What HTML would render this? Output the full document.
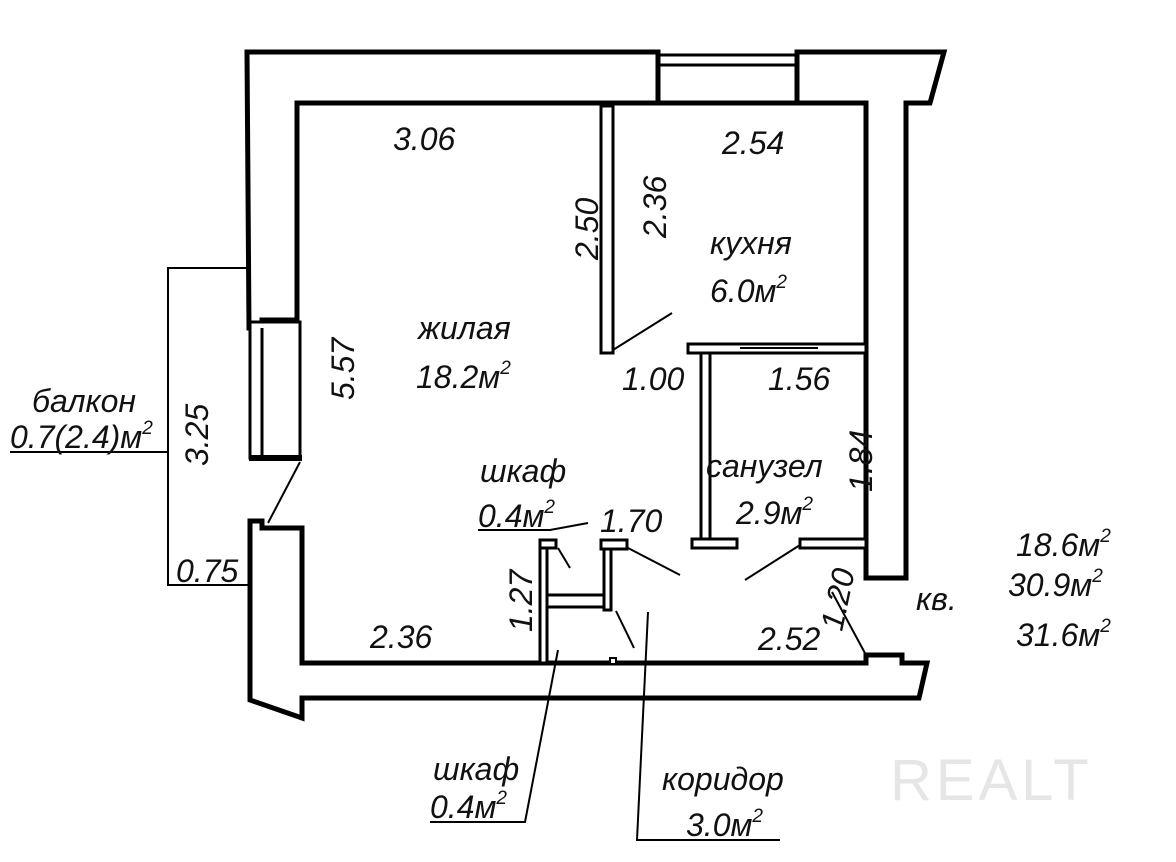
<!DOCTYPE html>
<html><head><meta charset="utf-8"><style>
html,body{margin:0;padding:0;background:#fff;}
svg{display:block}
text{font-family:"Liberation Sans","DejaVu Sans",sans-serif;font-style:italic;fill:#111;font-size:32px;}
</style></head><body>
<svg width="1176" height="862" viewBox="0 0 1176 862" xmlns="http://www.w3.org/2000/svg">
<rect width="1176" height="862" fill="#fff"/>
<g fill="#fff" stroke="#000" stroke-width="5" stroke-linejoin="miter">
<polygon points="247,52 658,52 658,103 297,103 297,320 262,320 262,328 249,328"/>
<polyline points="658,55 799,55" stroke-width="3" fill="none"/>
<polyline points="660,65 797,65" stroke-width="3" fill="none"/>
<line x1="658" y1="65" x2="658" y2="103"/>
<line x1="799" y1="65" x2="799" y2="103"/>
<line x1="658" y1="103" x2="799" y2="103"/>
<polygon points="797,52 944,52 930,103 906,103 906,578 866,578 866,103 797,103"/>
<rect x="250" y="322" width="50" height="136" stroke-width="3"/>
<line x1="262" y1="328" x2="262" y2="458" stroke-width="3"/>
<line x1="249" y1="458" x2="302" y2="458" stroke-width="6"/>
<polygon points="250,521 262,521 262,528 302,528 302,663 866,663 866,655 902,655 902,663 927,663 919,698 302,698 302,718 250,700"/>
<rect x="601" y="106" width="12" height="247" stroke-width="3"/>
<rect x="688" y="344" width="178" height="9" stroke-width="3"/>
<line x1="740" y1="348" x2="818" y2="348" stroke-width="2"/>
<rect x="701" y="353" width="9" height="188" stroke-width="3"/>
<rect x="692" y="539" width="45" height="9" stroke-width="3"/>
<rect x="800" y="539" width="66" height="9" stroke-width="3"/>
<rect x="540" y="545" width="7" height="118" stroke-width="3"/>
<rect x="540" y="540" width="16" height="8" stroke-width="3"/>
<rect x="604" y="542" width="7" height="68" stroke-width="3"/>
<rect x="601" y="540" width="26" height="9" stroke-width="3"/>
<rect x="547" y="595" width="57" height="12" stroke-width="3"/>
<rect x="610" y="658" width="6" height="6" stroke-width="2"/>
</g>
<g stroke="#000" stroke-width="2" fill="none">
<line x1="300" y1="462" x2="268" y2="523"/>
<line x1="613" y1="350" x2="672" y2="313"/>
<line x1="628" y1="548" x2="680" y2="575"/>
<line x1="800" y1="545" x2="745" y2="580"/>
<line x1="558" y1="548" x2="570" y2="568"/>
<line x1="616" y1="611" x2="634" y2="648"/>
<polyline points="248,268 168,268 168,585 250,585"/>
<line x1="10" y1="452" x2="168" y2="452"/>
<polyline points="478,530 550,530 588,523"/>
<polyline points="430,822 525,822 558,650"/>
<polyline points="780,840 637,840 648,612"/>
<line x1="832" y1="592" x2="866" y2="655"/>
</g>
<text x="393" y="150">3.06</text>
<text x="722" y="154">2.54</text>
<text x="710" y="254">кухня</text>
<text x="710" y="302">6.0м<tspan font-size="19" dy="-14">2</tspan></text>
<text x="418" y="339">жилая</text>
<text x="416" y="388">18.2м<tspan font-size="19" dy="-14">2</tspan></text>
<text x="622" y="390">1.00</text>
<text x="768" y="390">1.56</text>
<text x="706" y="477">санузел</text>
<text x="736" y="524">2.9м<tspan font-size="19" dy="-14">2</tspan></text>
<text x="480" y="482">шкаф</text>
<text x="478" y="527">0.4м<tspan font-size="19" dy="-14">2</tspan></text>
<text x="600" y="532">1.70</text>
<text x="370" y="648">2.36</text>
<text x="758" y="650">2.52</text>
<text x="32" y="412">балкон</text>
<text x="10" y="448">0.7(2.4)м<tspan font-size="19" dy="-14">2</tspan></text>
<text x="176" y="582">0.75</text>
<text x="433" y="780">шкаф</text>
<text x="430" y="818">0.4м<tspan font-size="19" dy="-14">2</tspan></text>
<text x="662" y="790">коридор</text>
<text x="686" y="836">3.0м<tspan font-size="19" dy="-14">2</tspan></text>
<text x="1016" y="556">18.6м<tspan font-size="19" dy="-14">2</tspan></text>
<text x="916" y="610">кв.</text>
<text x="1008" y="596">30.9м<tspan font-size="19" dy="-14">2</tspan></text>
<text x="1016" y="646">31.6м<tspan font-size="19" dy="-14">2</tspan></text>
<text transform="translate(598,260) rotate(-90)">2.50</text>
<text transform="translate(666,238) rotate(-90)">2.36</text>
<text transform="translate(354,400) rotate(-90)">5.57</text>
<text transform="translate(208,466) rotate(-90)">3.25</text>
<text transform="translate(872,492) rotate(-90)">1.84</text>
<text transform="translate(532,632) rotate(-90)">1.27</text>
<text transform="translate(842,632) rotate(-78)">1.20</text>
<text x="890" y="800" style="font-style:normal;font-size:58px;fill:#e6e6e6;letter-spacing:4px">REALT</text>
</svg>
</body></html>
